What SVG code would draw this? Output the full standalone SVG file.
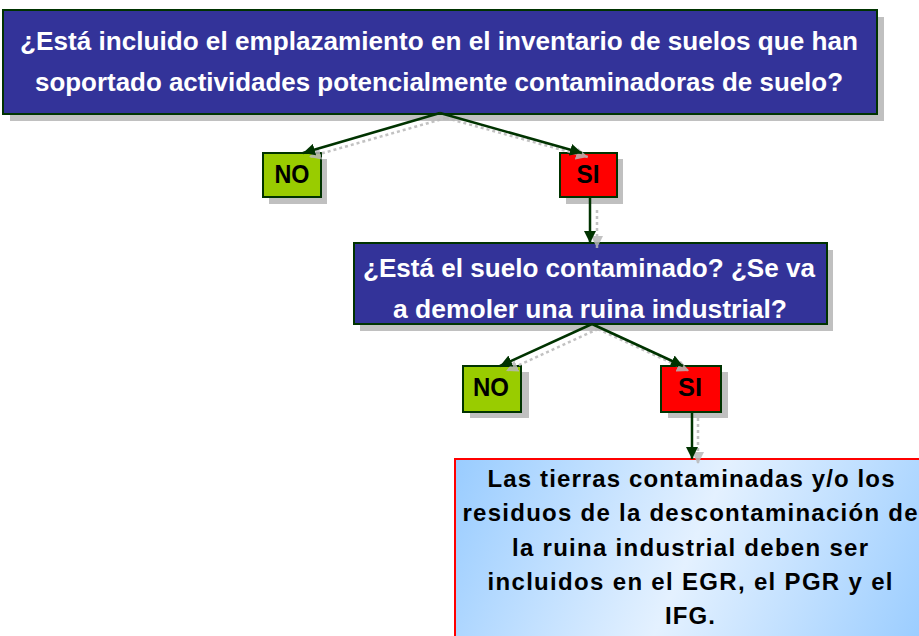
<svg xmlns="http://www.w3.org/2000/svg" width="919" height="636" viewBox="0 0 919 636">
<defs>
<style>
.shadow{fill:#C0C0C0}
.q{fill:#333399;stroke:#003300;stroke-width:2}
.no{fill:#99CC00;stroke:#003300;stroke-width:2}
.si{fill:#FF0000;stroke:#003300;stroke-width:2}
.qt{font-family:"Liberation Sans",Arial,sans-serif;font-weight:bold;fill:#FFFFFF;text-anchor:middle}
.lt{font-family:"Liberation Sans",Arial,sans-serif;font-weight:bold;fill:#000000;text-anchor:middle;font-size:25px}
.rt{font-family:"Liberation Sans",Arial,sans-serif;font-weight:bold;fill:#000000;text-anchor:middle;font-size:24px}
.conn{stroke:#003300;stroke-width:2.5;fill:none;marker-end:url(#ah)}
.conns{stroke:#B8B8B8;stroke-width:2.5;fill:none;stroke-dasharray:3 3;marker-end:url(#ahs)}
</style>
<marker id="ah" markerWidth="14" markerHeight="12" refX="12" refY="6" orient="auto" markerUnits="userSpaceOnUse">
<path d="M0,0 L12,6 L0,12 Z" fill="#003300"/>
</marker>
<marker id="ahs" markerWidth="14" markerHeight="12" refX="12" refY="6" orient="auto" markerUnits="userSpaceOnUse">
<path d="M0,0 L12,6 L0,12 Z" fill="#B8B8B8"/>
</marker>
<linearGradient id="bg" gradientUnits="userSpaceOnUse" x1="455" y1="459" x2="919" y2="660">
<stop offset="0" stop-color="#99CCFF"/>
<stop offset="0.5" stop-color="#E4F1FF"/>
<stop offset="1" stop-color="#99CCFF"/>
</linearGradient>
</defs>
<rect width="919" height="636" fill="#FFFFFF"/>

<g id="q1">
<rect class="shadow" x="10" y="17" width="874" height="104"/>
<rect class="q" x="3" y="10" width="874" height="104"/>
<text class="qt" x="439" y="50" font-size="26" textLength="838" lengthAdjust="spacingAndGlyphs">¿Está incluido el emplazamiento en el inventario de suelos que han</text>
<text class="qt" x="439" y="91" font-size="26" textLength="808" lengthAdjust="spacingAndGlyphs">soportado actividades potencialmente contaminadoras de suelo?</text>
</g>

<g id="no1">
<rect class="shadow" x="269" y="159" width="58" height="45"/>
<rect class="no" x="263" y="153" width="58" height="44"/>
<text class="lt" x="292" y="183" textLength="35" lengthAdjust="spacingAndGlyphs">NO</text>
</g>

<g id="si1">
<rect class="shadow" x="566" y="159" width="57" height="45"/>
<rect class="si" x="560" y="153" width="57" height="44"/>
<text class="lt" x="588" y="183" textLength="23" lengthAdjust="spacingAndGlyphs">SI</text>
</g>

<g id="q2">
<rect class="shadow" x="360" y="250" width="473" height="81"/>
<rect class="q" x="354" y="243" width="473" height="81"/>
<text class="qt" x="589" y="277" font-size="26" textLength="452" lengthAdjust="spacingAndGlyphs">¿Está el suelo contaminado? ¿Se va</text>
<text class="qt" x="590" y="318" font-size="26" textLength="394" lengthAdjust="spacingAndGlyphs">a demoler una ruina industrial?</text>
</g>

<g id="no2">
<rect class="shadow" x="470" y="372" width="59" height="46"/>
<rect class="no" x="463" y="366" width="58" height="46"/>
<text class="lt" x="491" y="396" textLength="36" lengthAdjust="spacingAndGlyphs">NO</text>
</g>

<g id="si2">
<rect class="shadow" x="668" y="372" width="60" height="46"/>
<rect class="si" x="661" y="366" width="60" height="46"/>
<text class="lt" x="690" y="396" textLength="24" lengthAdjust="spacingAndGlyphs">SI</text>
</g>

<g id="result">
<rect x="455" y="459" width="480" height="200" fill="url(#bg)" stroke="#FF0000" stroke-width="2"/>
<text class="rt" x="691" y="487" textLength="407" lengthAdjust="spacing">Las tierras contaminadas y/o los</text>
<text class="rt" x="690" y="521" textLength="455" lengthAdjust="spacing">residuos de la descontaminación de</text>
<text class="rt" x="690" y="556" textLength="356" lengthAdjust="spacing">la ruina industrial deben ser</text>
<text class="rt" x="690" y="590" textLength="405" lengthAdjust="spacing">incluidos en el EGR, el PGR y el</text>
<text class="rt" x="690" y="624" textLength="50" lengthAdjust="spacing">IFG.</text>
</g>

<g id="connectors">
<g opacity="0.85">
<path class="conns" d="M446,118 L309,157"/>
<path class="conns" d="M446,118 L588,157"/>
<path class="conns" d="M597,210 L597,248"/>
<path class="conns" d="M598,329 L506,371"/>
<path class="conns" d="M598,329 L689,371"/>
<path class="conns" d="M698,418 L698,464"/>
</g>
<path class="conn" d="M440,113 L303,153"/>
<path class="conn" d="M440,113 L582,153"/>
<path class="conn" d="M590,197 L590,243"/>
<path class="conn" d="M592,324 L500,366"/>
<path class="conn" d="M592,324 L683,366"/>
<path class="conn" d="M692,412 L692,459"/>
</g>
</svg>
